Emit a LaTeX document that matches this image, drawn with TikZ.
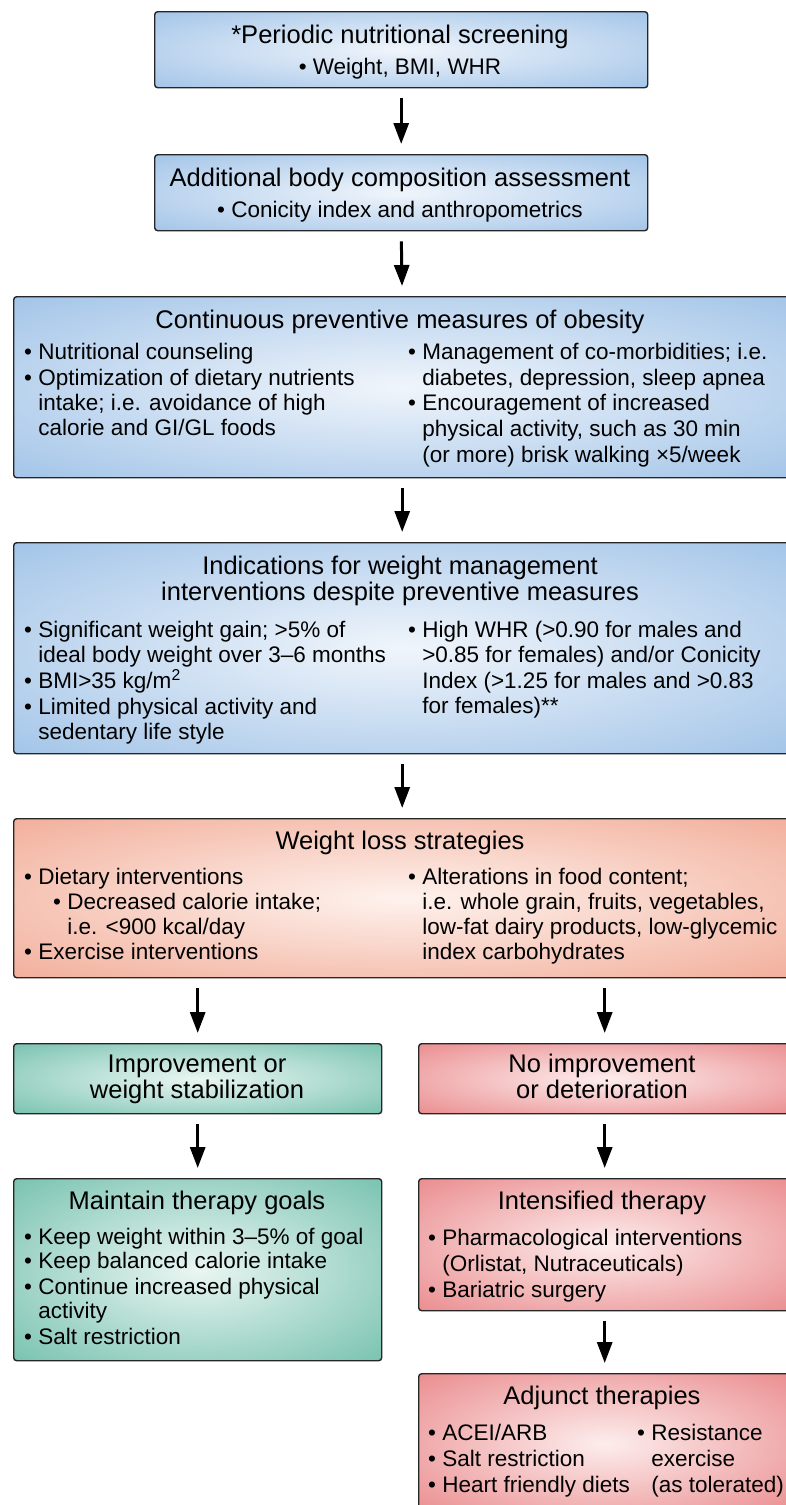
\documentclass[tikz,border=0pt]{standalone}
\usepackage{fontspec}
\setmainfont{Liberation Sans}
\usetikzlibrary{arrows.meta}
\definecolor{blueO}{RGB}{162,196,232}
\definecolor{blueI}{RGB}{240,245,251}
\definecolor{salO}{RGB}{242,174,154}
\definecolor{salI}{RGB}{254,242,237}
\definecolor{tealO}{RGB}{120,194,176}
\definecolor{tealI}{RGB}{234,246,242}
\definecolor{redO}{RGB}{234,140,142}
\definecolor{redI}{RGB}{253,237,237}
\pgfdeclareradialshading{softblue}{\pgfpoint{0bp}{0bp}}{color(0bp)=(blueI); color(36bp)=(blueO); color(50bp)=(blueO)}
\pgfdeclareradialshading{softsal}{\pgfpoint{0bp}{0bp}}{color(0bp)=(salI); color(36bp)=(salO); color(50bp)=(salO)}
\pgfdeclareradialshading{softteal}{\pgfpoint{0bp}{0bp}}{color(0bp)=(tealI); color(36bp)=(tealO); color(50bp)=(tealO)}
\pgfdeclareradialshading{softred}{\pgfpoint{0bp}{0bp}}{color(0bp)=(redI); color(36bp)=(redO); color(50bp)=(redO)}
\begin{document}
\begin{tikzpicture}[x=1pt,y=-1pt,
  box/.style={draw=black!85, line width=1.4pt, rounded corners=3pt, anchor=north west, inner sep=0pt},
  bluebox/.style={box, shading=softblue},
  salbox/.style={box, shading=softsal},
  tealbox/.style={box, shading=softteal},
  redbox/.style={box, shading=softred},
  ttl/.style={font=\fontsize{25.5}{27}\selectfont, anchor=base, inner sep=0pt},
  cb/.style={font=\fontsize{22.5}{24}\selectfont, anchor=base, inner sep=0pt},
  bod/.style={font=\fontsize{22.5}{24}\selectfont, anchor=base west, inner sep=0pt},
  arr/.style={line width=3pt, -{Triangle[width=15pt,length=21pt]}, shorten <=10pt, shorten >=10pt}]
\useasboundingbox (0,0) rectangle (785,1505);

% boxes
\node[bluebox, minimum width=493pt, minimum height=76pt] (b1) at (154,11) {};
\node[bluebox, minimum width=493pt, minimum height=76pt] (b2) at (154,154) {};
\node[bluebox, minimum width=777pt, minimum height=181pt] (b3) at (13,296) {};
\node[bluebox, minimum width=777pt, minimum height=211pt] (b4) at (13,542) {};
\node[salbox, minimum width=777pt, minimum height=159pt] (b5) at (13,818) {};
\node[tealbox, minimum width=368pt, minimum height=70pt] (b6) at (13,1043) {};
\node[redbox, minimum width=372pt, minimum height=70pt] (b7) at (418,1043) {};
\node[tealbox, minimum width=368pt, minimum height=182pt] (b8) at (13,1178) {};
\node[redbox, minimum width=372pt, minimum height=132pt] (b9) at (418,1178) {};
\node[redbox, minimum width=372pt, minimum height=140pt] (b10) at (418,1373) {};

% arrows
\draw[arr] (b1.south) -- (b2.north);
\draw[arr] (b2.south) -- (b3.north);
\draw[arr] (b3.south) -- (b4.north);
\draw[arr] (b4.south) -- (b5.north);
\draw[arr] (b5.south -| b6.north) -- (b6.north);
\draw[arr] (b5.south -| b7.north) -- (b7.north);
\draw[arr] (b6.south) -- (b8.north);
\draw[arr] (b7.south) -- (b9.north);
\draw[arr] (b9.south) -- (b10.north);

% box 1
\node[ttl] (t1a) at (400,43) {*Periodic nutritional screening};
\node[cb] (t1b) at (400,74) {• Weight, BMI, WHR};
% box 2
\node[ttl] (t2a) at (400,186) {Additional body composition assessment};
\node[cb] (t2b) at (400,217) {• Conicity index and anthropometrics};
% box 3
\node[ttl] (t3a) at (400,328) {Continuous preventive measures of obesity};
\node[bod] (t3l1) at (24,359) {• Nutritional counseling};
\node[bod] (t3l2) at (24,385) {• Optimization of dietary nutrients};
\node[bod] (t3l3) at (24,410) {\phantom{• }intake; i.e. avoidance of high};
\node[bod] (t3l4) at (24,435) {\phantom{• }calorie and GI/GL foods};
\node[bod] (t3r1) at (408,359) {• Management of co-morbidities; i.e.};
\node[bod] (t3r2) at (408,385) {\phantom{• }diabetes, depression, sleep apnea};
\node[bod] (t3r3) at (408,410) {• Encouragement of increased};
\node[bod] (t3r4) at (408,436) {\phantom{• }physical activity, such as 30 min};
\node[bod] (t3r5) at (408,462) {\phantom{• }(or more) brisk walking ×5/week};
% box 4
\node[ttl] (t4a) at (400,574) {Indications for weight management};
\node[ttl] (t4b) at (400,600) {interventions despite preventive measures};
\node[bod] (t4l1) at (24,637) {• Significant weight gain; >5\% of};
\node[bod] (t4l2) at (24,662) {\phantom{• }ideal body weight over 3–6 months};
\node[bod] (t4l3) at (24,688) {• BMI>35 kg/m\textsuperscript{2}};
\node[bod] (t4l4) at (24,714) {• Limited physical activity and};
\node[bod] (t4l5) at (24,739) {\phantom{• }sedentary life style};
\node[bod] (t4r1) at (408,637) {• High WHR (>0.90 for males and};
\node[bod] (t4r2) at (408,662) {\phantom{• }>0.85 for females) and/or Conicity};
\node[bod] (t4r3) at (408,688) {\phantom{• }Index (>1.25 for males and >0.83};
\node[bod] (t4r4) at (408,713) {\phantom{• }for females)**};
% box 5
\node[ttl] (t5a) at (400,849) {Weight loss strategies};
\node[bod] (t5l1) at (24,884) {• Dietary interventions};
\node[bod] (t5l2) at (53,909) {• Decreased calorie intake;};
\node[bod] (t5l3) at (53,934) {\phantom{• }i.e. <900 kcal/day};
\node[bod] (t5l4) at (24,959) {• Exercise interventions};
\node[bod] (t5r1) at (408,884) {• Alterations in food content;};
\node[bod] (t5r2) at (408,909) {\phantom{• }i.e. whole grain, fruits, vegetables,};
\node[bod] (t5r3) at (408,934) {\phantom{• }low-fat dairy products, low-glycemic};
\node[bod] (t5r4) at (408,959) {\phantom{• }index carbohydrates};
% box 6, 7
\node[ttl] (t6a) at (197,1072) {Improvement or};
\node[ttl] (t6b) at (197,1098) {weight stabilization};
\node[ttl] (t7a) at (602,1072) {No improvement};
\node[ttl] (t7b) at (602,1098) {or deterioration};
% box 8
\node[ttl] (t8a) at (197,1209) {Maintain therapy goals};
\node[bod] (t8l1) at (24,1244) {• Keep weight within 3–5\% of goal};
\node[bod] (t8l2) at (24,1268) {• Keep balanced calorie intake};
\node[bod] (t8l3) at (24,1294) {• Continue increased physical};
\node[bod] (t8l4) at (24,1318) {\phantom{• }activity};
\node[bod] (t8l5) at (24,1344) {• Salt restriction};
% box 9
\node[ttl] (t9a) at (602,1209) {Intensified therapy};
\node[bod] (t9l1) at (428,1245) {• Pharmacological interventions};
\node[bod] (t9l2) at (428,1271) {\phantom{• }(Orlistat, Nutraceuticals)};
\node[bod] (t9l3) at (428,1297) {• Bariatric surgery};
% box 10
\node[ttl] (t10a) at (602,1404) {Adjunct therapies};
\node[bod] (t10l1) at (428,1440) {• ACEI/ARB};
\node[bod] (t10l2) at (428,1466) {• Salt restriction};
\node[bod] (t10l3) at (428,1492) {• Heart friendly diets};
\node[bod] (t10r1) at (637,1440) {• Resistance};
\node[bod] (t10r2) at (637,1466) {\phantom{• }exercise};
\node[bod] (t10r3) at (637,1492) {\phantom{• }(as tolerated)};
\end{tikzpicture}
\end{document}
